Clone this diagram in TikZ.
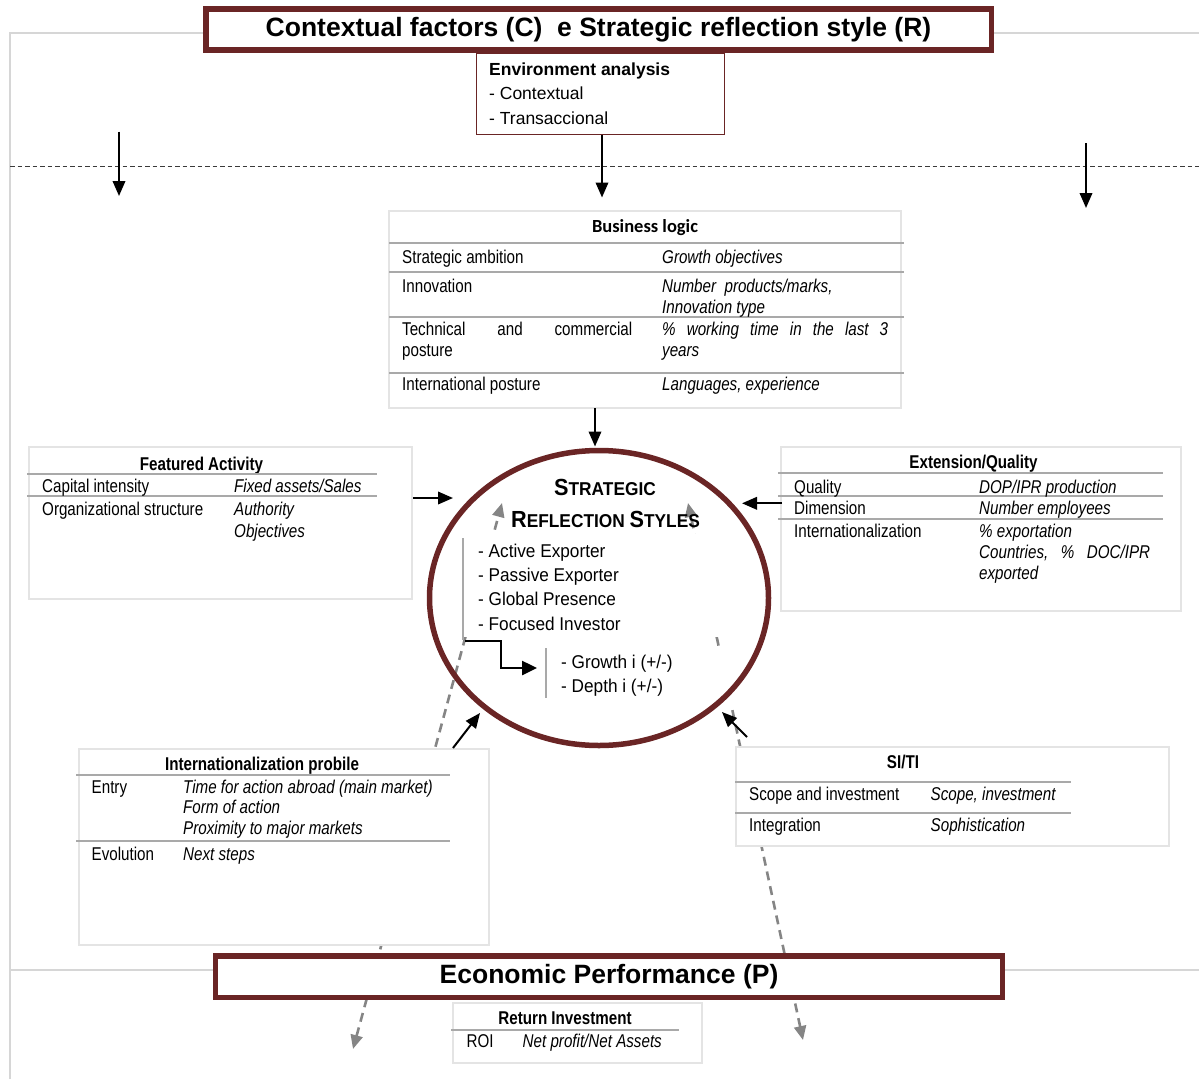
\documentclass[tikz,border=0pt]{standalone}
\usepackage{fontspec}
\setmainfont{Liberation Sans}
\newfontfamily\nar[FakeStretch=0.82]{Liberation Sans}
\newfontfamily\narB[FakeStretch=0.93]{Liberation Sans}
\newfontfamily\calib{Carlito}
\usetikzlibrary{arrows.meta,shapes.geometric}
\definecolor{dred}{HTML}{6A2525}
\definecolor{lgray}{HTML}{E4E4E4}
\definecolor{rgray}{HTML}{A9A9A9}
\definecolor{fgray}{HTML}{D6D6D6}
\definecolor{dgray}{HTML}{858585}
\definecolor{dotc}{HTML}{3A3A3A}
\tikzset{
  cell/.style={anchor=base west, inner sep=0, font={\nar\fontsize{18.5}{21}\selectfont}},
  celli/.style={anchor=base west, inner sep=0, font={\nar\itshape\fontsize{18.5}{21}\selectfont}},
  head/.style={anchor=base, inner sep=0, font={\nar\bfseries\fontsize{18.5}{21}\selectfont}},
  listtxt/.style={anchor=base west, inner sep=0, font={\narB\fontsize{18.5}{21}\selectfont}},
  envtxt/.style={anchor=base west, inner sep=0, font={\fontsize{17.5}{21}\selectfont}},
  tablebox/.style={draw=lgray, line width=1.5pt, fill=white, inner sep=0, rectangle},
  rowline/.style={draw=rgray, line width=2pt},
  bigbox/.style={draw=dred, line width=5.5pt, fill=white, inner sep=0, rectangle,
     font={\bfseries\fontsize{26.5}{30}\selectfont}},
  blk/.style={-{Triangle[length=15pt,width=12.5pt]}, line width=2pt, black},
  gdash/.style={draw=dgray, line width=2.6pt, dash pattern=on 9pt off 6pt,
     {Triangle[length=14pt,width=12pt]}-{Triangle[length=14pt,width=12pt]}},
  whitefill/.style={fill=white, draw=none, inner sep=0, rectangle},
}
\begin{document}
\begin{tikzpicture}[x=1pt,y=-1pt]
\useasboundingbox (0,0) rectangle (1199,1079);
% frame
\draw[fgray, line width=2.5pt] (10,1079) -- (10,33) -- (1199,33);
\draw[fgray, line width=2.5pt] (10,970) -- (1199,970);
% dotted separator
\draw[dotc, line width=1.5pt, dash pattern=on 4.5pt off 3pt] (10,166.5) -- (1199,166.5);

% gray dashed double arrows (behind boxes)
\coordinate (gl1) at (502,503);
\coordinate (gl2) at (353,1049);
\coordinate (gr1) at (688,503);
\coordinate (gr2) at (803,1040);
\draw[gdash] (gl2) -- (gl1);
\draw[gdash] (gr2) -- (gr1);

% table boxes
\node[tablebox, minimum width=512, minimum height=197] (bl) at (645,309.5) {};
\node[tablebox, minimum width=383, minimum height=152] (fa) at (220.5,523) {};
\node[tablebox, minimum width=400, minimum height=164] (eq) at (981,529) {};
\node[tablebox, minimum width=410, minimum height=196] (ip) at (284,847) {};
\node[tablebox, minimum width=433, minimum height=99] (si) at (952.5,796.5) {};
\node[tablebox, minimum width=249, minimum height=60] (ri) at (577.5,1033) {};

% white areas inside the ellipse
\node[whitefill, minimum width=258, minimum height=103] (lw) at (593,585.5) {};
\node[whitefill, minimum width=185, minimum height=60] (gw) at (640.5,676) {};

% ellipse
\node[draw=dred, line width=5.5pt, ellipse, inner sep=0, minimum width=339, minimum height=295] (srs) at (599,598) {};

% title boxes
\node[bigbox, minimum width=785.5, minimum height=41.2] (ctx) at (598.5,29.35) {Contextual factors (C)\ \ e Strategic reflection style (R)};
\node[bigbox, minimum width=787, minimum height=41.7] (econ) at (609,976.65) {Economic Performance (P)};
\node[draw=dred, line width=1.5pt, fill=white, inner sep=0, rectangle, minimum width=248, minimum height=81.5] (env) at (600.5,93.75) {};
\node[envtxt, font={\bfseries\fontsize{17.5}{21}\selectfont}] (env1) at (489,75) {Environment analysis};
\node[envtxt] (env2) at (489,99) {- Contextual};
\node[envtxt] (env3) at (489,124) {- Transaccional};

% Business logic
\node[anchor=base, inner sep=0, font={\calib\bfseries\fontsize{18.5}{21}\selectfont}] (blh) at (645,232) {Business logic};
\draw[rowline] (389,243) -- (904,243);
\draw[rowline] (389,272.3) -- (904,272.3);
\draw[rowline] (389,316.7) -- (904,316.7);
\draw[rowline] (389,372.7) -- (904,372.7);
\node[cell] (bl1a) at (402,263) {Strategic ambition};
\node[celli] (bl1b) at (662,263) {Growth objectives};
\node[cell] (bl2a) at (402,292) {Innovation};
\node[celli] (bl2b) at (662,292) {Number\ \ products/marks,};
\node[celli] (bl2c) at (662,313) {Innovation type};
\node[cell] (bl3a) at (402,335) {\makebox[230pt][s]{Technical\hfill and\hfill commercial}};
\node[cell] (bl3b) at (402,356) {posture};
\node[celli] (bl3c) at (662,335) {\makebox[226pt][s]{\%\hfill working\hfill time\hfill in\hfill the\hfill last\hfill 3}};
\node[celli] (bl3d) at (662,356) {years};
\node[cell] (bl4a) at (402,390) {International posture};
\node[celli] (bl4b) at (662,390) {Languages, experience};

% Featured Activity
\node[head] (fah) at (201.5,470) {Featured Activity};
\draw[rowline] (27,474) -- (377,474);
\draw[rowline] (27,496) -- (377,496);
\node[cell] (fa1a) at (42,492) {Capital intensity};
\node[celli] (fa1b) at (234,492) {Fixed assets/Sales};
\node[cell] (fa2a) at (42,515) {Organizational structure};
\node[celli] (fa2b) at (234,515) {Authority};
\node[celli] (fa2c) at (234,537) {Objectives};

% Extension/Quality
\node[head] (eqh) at (973.5,468) {Extension/Quality};
\draw[rowline] (778,473) -- (1163,473);
\draw[rowline] (778,496) -- (1163,496);
\draw[rowline] (778,519) -- (1163,519);
\node[cell] (eq1a) at (794,493) {Quality};
\node[celli] (eq1b) at (979,493) {DOP/IPR production};
\node[cell] (eq2a) at (794,514) {Dimension};
\node[celli] (eq2b) at (979,514) {Number employees};
\node[cell] (eq3a) at (794,537) {Internationalization};
\node[celli] (eq3b) at (979,537) {\% exportation};
\node[celli] (eq3c) at (979,558.5) {\makebox[171pt][s]{Countries,\hfill \%\hfill DOC/IPR}};
\node[celli] (eq3d) at (979,579) {exported};

% Internationalization probile
\node[head] (iph) at (262,770.5) {Internationalization probile};
\draw[rowline] (76,774.7) -- (450,774.7);
\draw[rowline] (76,840.7) -- (450,840.7);
\node[cell] (ip1a) at (91.5,793) {Entry};
\node[celli] (ip1b) at (183,793) {Time for action abroad (main market)};
\node[celli] (ip1c) at (183,813.5) {Form of action};
\node[celli] (ip1d) at (183,834) {Proximity to major markets};
\node[cell] (ip2a) at (91.5,860) {Evolution};
\node[celli] (ip2b) at (183,860) {Next steps};

% SI/TI
\node[head] (sih) at (903,768) {SI/TI};
\draw[rowline] (735,782) -- (1071,782);
\draw[rowline] (735,812.7) -- (1071,812.7);
\node[cell] (si1a) at (749,800.5) {Scope and investment};
\node[celli] (si1b) at (930.5,800.5) {Scope, investment};
\node[cell] (si2a) at (749,831.5) {Integration};
\node[celli] (si2b) at (930.5,831.5) {Sophistication};

% Return Investment
\node[head] (rih) at (565,1024) {Return Investment};
\draw[rowline] (451,1029.5) -- (678.5,1029.5);
\node[cell] (ri1a) at (466.5,1047) {ROI};
\node[celli] (ri1b) at (522.5,1047) {Net profit/Net Assets};

% ellipse contents
\node[anchor=base, inner sep=0, font={\narB\bfseries}] (st1) at (605,495)
  {{\fontsize{23.3}{26}\selectfont S}{\fontsize{18.6}{22}\selectfont TRATEGIC}};
\node[anchor=base, inner sep=0, font={\narB\bfseries}] (st2) at (605.5,527)
  {{\fontsize{23.3}{26}\selectfont R}{\fontsize{18.6}{22}\selectfont EFLECTION }{\fontsize{23.3}{26}\selectfont S}{\fontsize{18.6}{22}\selectfont TYLES}};
\draw[rgray, line width=1.5pt] (463,538) -- (463,640);
\node[listtxt] (ls1) at (478,557) {- Active Exporter};
\node[listtxt] (ls2) at (478,581.5) {- Passive Exporter};
\node[listtxt] (ls3) at (478,605.5) {- Global Presence};
\node[listtxt] (ls4) at (478,630) {- Focused Investor};
\draw[rgray, line width=1.5pt] (546,648) -- (546,698);
\node[listtxt] (gd1) at (561,668) {- Growth i (+/-)};
\node[listtxt] (gd2) at (561,692) {- Depth i (+/-)};
\coordinate (el1) at (465,641);
\coordinate (el2) at (537,668);
\draw[-{Triangle[length=15pt,width=14pt]}, line width=2.5pt] (el1) -- (501,641) -- (501,668) -- (el2);

% black arrows
\coordinate (ta1) at (119,131.5);
\coordinate (ta2) at (119,196);
\draw[blk] (ta1) -- (ta2);
\coordinate (tm1) at (602,134.5);
\coordinate (tm2) at (602,197.5);
\draw[blk] (tm1) -- (tm2);
\coordinate (tr1) at (1086,143);
\coordinate (tr2) at (1086,208);
\draw[blk] (tr1) -- (tr2);
\coordinate (bs1) at (595,408);
\coordinate (bs2) at (595,446.5);
\draw[blk] (bs1) -- (bs2);
\coordinate (fs1) at (413,498);
\coordinate (fs2) at (453,498);
\draw[blk] (fs1) -- (fs2);
\coordinate (es1) at (782,503.3);
\coordinate (es2) at (742,503.3);
\draw[blk] (es1) -- (es2);
\coordinate (is1) at (453,748);
\coordinate (is2) at (480,713);
\draw[blk] (is1) -- (is2);
\coordinate (ss1) at (747,737);
\coordinate (ss2) at (722,712);
\draw[blk] (ss1) -- (ss2);
\end{tikzpicture}
\end{document}
